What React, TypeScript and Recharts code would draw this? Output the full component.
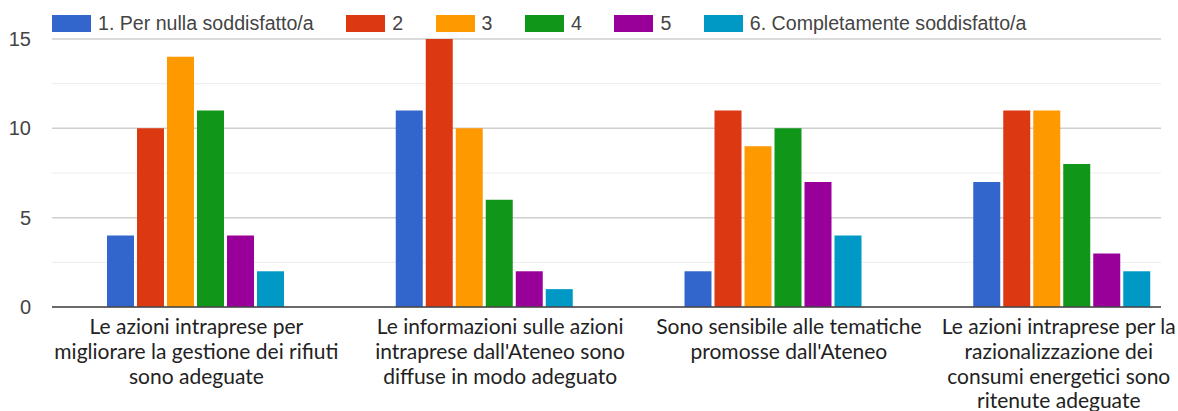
import { BarChart, Bar, XAxis, YAxis, CartesianGrid, Legend } from 'recharts';

const categories = [
  'Le azioni intraprese per\nmigliorare la gestione dei rifiuti\nsono adeguate',
  "Le informazioni sulle azioni\nintraprese dall'Ateneo sono\ndiffuse in modo adeguato",
  "Sono sensibile alle tematiche\npromosse dall'Ateneo",
  'Le azioni intraprese per la\nrazionalizzazione dei\nconsumi energetici sono\nritenute adeguate',
];

const seriesNames = [
  '1. Per nulla soddisfatto/a',
  '2',
  '3',
  '4',
  '5',
  '6. Completamente soddisfatto/a',
];
const seriesColors = ['#3366cc', '#dc3912', '#ff9900', '#109618', '#990099', '#0099c6'];

const level1 = [4, 11, 2, 7];
const level2 = [10, 15, 11, 11];
const level3 = [14, 10, 9, 11];
const level4 = [11, 6, 10, 8];
const level5 = [4, 2, 7, 3];
const level6 = [2, 1, 4, 2];
const levels = [level1, level2, level3, level4, level5, level6];

const yTicks = [0, 2.5, 5, 7.5, 10, 12.5, 15];

const data = categories.map((name, i) => {
  const row: Record<string, string | number> = { name };
  levels.forEach((vals, s) => {
    row['s' + s] = vals[i];
  });
  return row;
});

const ARIAL = '"Liberation Sans", Arial, sans-serif';
const LABEL_FONT = 'Lato, "Open Sans", sans-serif';
const LABEL_SIZE = 21;
// inner labels sit slightly right of their bar group in the source chart
const LABEL_NUDGE = [0, 15, 15, 0];

let ctx: CanvasRenderingContext2D | null = null;
function textWidth(s: string) {
  if (!ctx) ctx = document.createElement('canvas').getContext('2d');
  if (!ctx) return s.length * LABEL_SIZE * 0.5;
  ctx.font = `${LABEL_SIZE}px ${LABEL_FONT}`;
  return ctx.measureText(s).width;
}

function CategoryTick(props: any) {
  const { x, y, payload, index } = props;
  const lines = String(payload.value).split('\n');
  const half = Math.max(...lines.map(textWidth)) / 2;
  const cx = Math.max(52 + half, Math.min(x + (LABEL_NUDGE[index] || 0), 1176 - half));
  return (
    <text x={cx} y={y} textAnchor="middle" fontFamily={LABEL_FONT} fontSize={LABEL_SIZE} fill="#222">
      {lines.map((line, i) => (
        <tspan key={i} x={cx} dy={i === 0 ? 19 : 24.8}>
          {line}
        </tspan>
      ))}
    </text>
  );
}

function GridLine(props: any) {
  const { x1, x2, y1, y2, index } = props;
  const minor = index % 2 === 1;
  return (
    <line
      x1={x1}
      x2={x2}
      y1={y1}
      y2={y2}
      stroke={minor ? '#ececec' : '#cfcfcf'}
      strokeWidth={minor ? 1 : 1.5}
    />
  );
}

function LegendRow() {
  return (
    <div
      style={{
        display: 'flex',
        alignItems: 'center',
        height: 32,
        paddingLeft: 52,
        fontFamily: ARIAL,
        fontSize: 19.6,
        color: '#444',
        whiteSpace: 'nowrap',
      }}
    >
      {seriesNames.map((name, i) => (
        <div key={name} style={{ display: 'flex', alignItems: 'center', marginRight: 32.5 }}>
          <div style={{ width: 39, height: 17, background: seriesColors[i], marginRight: 7 }} />
          <span>{name}</span>
        </div>
      ))}
    </div>
  );
}

export default function App() {
  return (
    <div style={{ position: 'absolute', left: 0, top: 0, background: '#fff' }}>
      <BarChart
        width={1178}
        height={411}
        data={data}
        margin={{ top: 7, right: 17, left: 0, bottom: 0 }}
        barCategoryGap={55}
        barGap={3}
      >
        <CartesianGrid vertical={false} horizontal={GridLine} />
        <Legend verticalAlign="top" align="left" content={LegendRow} />
        <XAxis
          dataKey="name"
          interval={0}
          height={104}
          padding={{ left: 0, right: -46 }}
          tick={CategoryTick}
          tickLine={false}
          axisLine={{ stroke: '#444', strokeWidth: 1.5 }}
        />
        <YAxis
          width={52}
          domain={[0, 15]}
          ticks={yTicks}
          interval={0}
          tickFormatter={(v: number) => (v % 5 === 0 ? String(v) : '')}
          tick={{ fontFamily: ARIAL, fontSize: 20, fill: '#444' }}
          tickLine={false}
          axisLine={false}
          tickSize={0}
          tickMargin={21}
        />
        {seriesNames.map((name, s) => (
          <Bar
            key={name}
            dataKey={'s' + s}
            name={name}
            fill={seriesColors[s]}
            isAnimationActive={false}
          />
        ))}
      </BarChart>
    </div>
  );
}
